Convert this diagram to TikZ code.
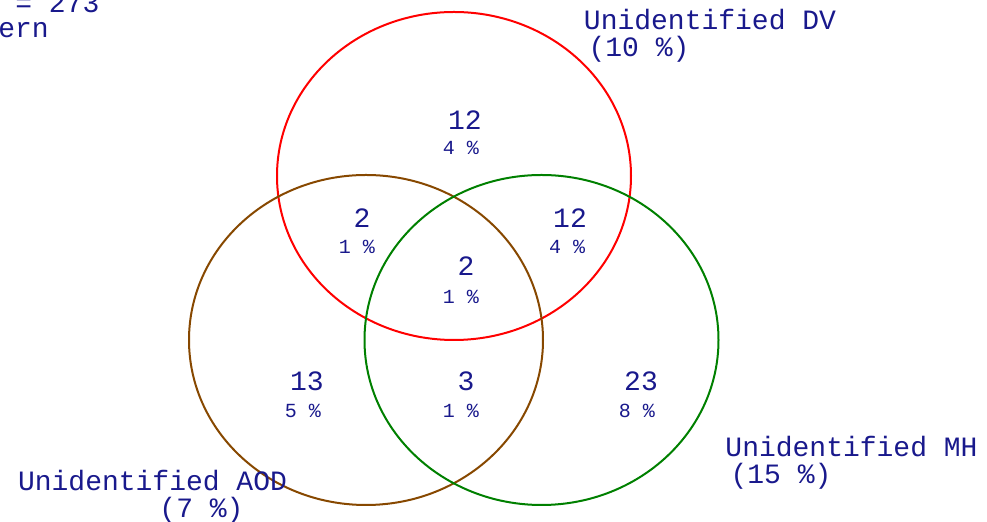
\documentclass[tikz,border=0pt]{standalone}
\usepackage{fontspec}
\setmonofont{Liberation Mono}
\usepackage{tikz}
\usetikzlibrary{positioning}

\definecolor{vtext}{RGB}{25,25,140}
\definecolor{vbrown}{RGB}{135,72,0}
\definecolor{vgreen}{RGB}{0,128,0}

\begin{document}
\begin{tikzpicture}[x=0.5pt, y=-0.5pt,
    cnt/.style={inner sep=0pt, text=vtext, font=\ttfamily\fontsize{14}{16}\selectfont},
    pct/.style={inner sep=0pt, text=vtext, font=\ttfamily\fontsize{10}{12}\selectfont},
    lbl/.style={inner sep=0pt, text=vtext, font=\ttfamily\fontsize{14}{16}\selectfont},
    ring/.style={line width=1pt}]
    \clip (0,0) rectangle (987,522);

    % Circles
    \draw[ring, red] (454,176) ellipse [x radius=88.5pt, y radius=82pt];
    \draw[ring, vbrown] (366,340) ellipse [x radius=88.5pt, y radius=82.5pt];
    \draw[ring, vgreen] (541.5,340) ellipse [x radius=88.5pt, y radius=82.5pt];

    % Counts
    \node (dvonly) [cnt] at (465,120) {12};
    \node (dvonlyp) [pct] at (461,148) {4 \%};
    \node (dvaod) [cnt] at (362,218) {2};
    \node (dvaodp) [pct] at (357,247) {1 \%};
    \node (dvmh) [cnt] at (570,218) {12};
    \node (dvmhp) [pct] at (567,247) {4 \%};
    \node (all) [cnt] at (466,266) {2};
    \node (allp) [pct] at (461,297) {1 \%};
    \node (aodonly) [cnt] at (307,381) {13};
    \node (aodonlyp) [pct] at (303,411) {5 \%};
    \node (aodmh) [cnt] at (466,381) {3};
    \node (aodmhp) [pct] at (461,411) {1 \%};
    \node (mhonly) [cnt] at (641,381) {23};
    \node (mhonlyp) [pct] at (637,411) {8 \%};

    % Set labels
    \node (dvlbl) [lbl] at (710,20) {Unidentified DV};
    \node (dvpct) [lbl] at (639,49) {(10 \%)};
    \node (mhlbl) [lbl] at (851.5,447) {Unidentified MH};
    \node (mhpct) [lbl] at (781,476) {(15 \%)};
    \node (aodlbl) [lbl] at (152.5,481) {Unidentified AOD};
    \node (aodpct) [lbl] at (201.5,510) {(7 \%)};

    % Header (cut off)
    \node (total) [lbl, anchor=base west] at (15,13) {= 273};
    \node (pattern) [lbl, anchor=base west] at (-2,38) {ern};
\end{tikzpicture}
\end{document}
